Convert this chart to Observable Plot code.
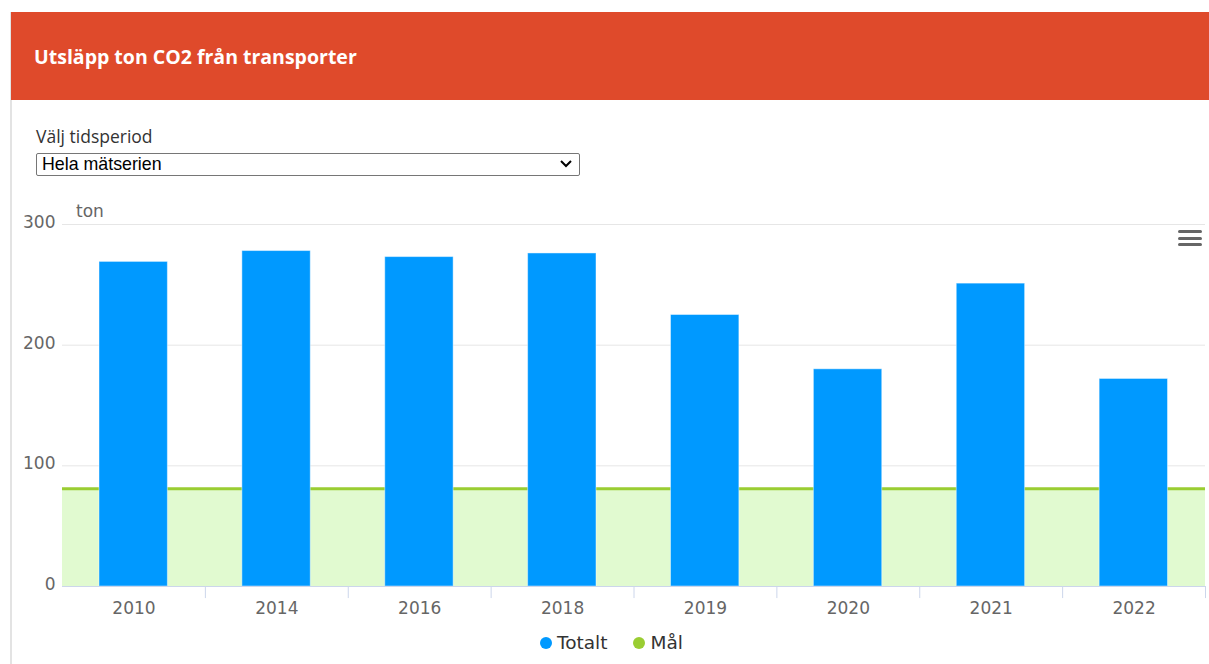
<!DOCTYPE html>
<html>
<head>
<meta charset="utf-8">
<script src="https://cdn.jsdelivr.net/npm/d3@7"></script>
<script src="https://cdn.jsdelivr.net/npm/@observablehq/plot@0.6"></script>
<style>
  html, body { margin: 0; padding: 0; background: #fff; width: 1209px; height: 664px; overflow: hidden; position: relative; font-family: "DejaVu Sans", sans-serif; }
  #border { position: absolute; left: 10px; top: 12px; width: 2px; height: 652px; background: #e3e3e3; }
  #header { position: absolute; left: 11px; top: 12px; width: 1198px; height: 88px; background: #df4a2b; }
  #header h1 { margin: 0; position: absolute; left: 23px; top: 32px; color: #fff; font: bold 19.5px "Open Sans", sans-serif; line-height: 26px; }
  #lbl { position: absolute; left: 36px; top: 125px; font: 17.5px "Open Sans", sans-serif; color: #333; line-height: 22px; }
  #sel { position: absolute; left: 36px; top: 153px; width: 542px; height: 21px; border: 1px solid #767676; border-radius: 2px; font: 17.8px "Liberation Sans", Arial, sans-serif; color: #000; line-height: 22px; }
  #sel span { position: absolute; left: 5px; top: -1px; }
  #sel svg { position: absolute; right: 6px; top: 5px; }
  #chart { position: absolute; left: 0; top: 195px; }
  #ton { position: absolute; left: 76px; top: 201px; font: 17px "DejaVu Sans", sans-serif; color: #666; line-height: 20px; }
  #menu { position: absolute; left: 1178px; top: 230px; width: 24px; }
  #menu div { height: 3px; background: #666; border-radius: 2px; margin-bottom: 3.5px; }
  #legend { position: absolute; top: 631px; left: 540px; font: 18.5px "DejaVu Sans", sans-serif; color: #333; line-height: 24px; display: flex; }
  #legend .it { display: flex; align-items: center; margin-right: 26px; }
  #legend .dot { width: 12px; height: 12px; border-radius: 6px; margin-right: 5px; }
</style>
</head>
<body>
<div id="border"></div>
<div id="header"><h1>Utsläpp ton CO2 från transporter</h1></div>
<div id="lbl">Välj tidsperiod</div>
<div id="sel"><span>Hela mätserien</span><svg width="14" height="10" viewBox="0 0 14 10"><path d="M2 2 L7 7 L12 2" fill="none" stroke="#000" stroke-width="2"/></svg></div>
<div id="chart"></div>
<div id="ton">ton</div>
<div id="menu"><div></div><div></div><div></div></div>
<div id="legend"></div>
<script>
const years = ["2010", "2014", "2016", "2018", "2019", "2020", "2021", "2022"];
const totalt = [269, 278, 273, 276, 225, 180, 251, 172];
const goal = 81;
const yTicks = [0, 100, 200, 300];
const seriesNames = ["Totalt", "Mål"];
const seriesColors = ["#0099ff", "#9acd32"];

const data = years.map((y, i) => ({year: y, value: totalt[i]}));
const W = 1209, H = 430, mL = 62, mR = 4;
const step = (W - mL - mR) / years.length;

const plot = Plot.plot({
  width: W,
  height: H,
  marginLeft: mL,
  marginRight: mR,
  marginTop: 29,
  marginBottom: 39,
  style: {fontFamily: "'DejaVu Sans', sans-serif", fontSize: "17px", color: "#666", background: "transparent"},
  x: {domain: years, padding: 0, round: false, label: null},
  y: {domain: [0, 300], label: null},
  marks: [
    Plot.ruleY(yTicks.filter(d => d > 0), {stroke: "#e6e6e6", strokeWidth: 1}),
    Plot.rectY([goal], {y1: 0, y2: d => d, fill: "#e1fad0"}),
    Plot.ruleY([goal], {stroke: seriesColors[1], strokeWidth: 3}),
    Plot.barY(data, {x: "year", y: "value", fill: seriesColors[0], insetLeft: 37, insetRight: 37.5, stroke: "#ffffff", strokeOpacity: 0.45, strokeWidth: 1}),
    Plot.ruleY([0], {stroke: "#ccd6eb", strokeWidth: 1}),
    Plot.ruleX(years, {x: d => d, dx: step / 2, y1: 0, y2: -10, stroke: "#ccd6eb", strokeWidth: 1}),
    Plot.axisX({tickSize: 0, tickPadding: 15, fill: "#666", fontSize: 17, label: null}),
    Plot.axisY({ticks: yTicks, tickSize: 0, tickPadding: 7, fill: "#666", fontSize: 17, dy: -2, label: null})
  ]
});
document.getElementById("chart").appendChild(plot);

const legend = document.getElementById("legend");
seriesNames.forEach((n, i) => {
  const it = document.createElement("div");
  it.className = "it";
  const dot = document.createElement("div");
  dot.className = "dot";
  dot.style.background = seriesColors[i];
  const t = document.createElement("span");
  t.textContent = n;
  it.appendChild(dot);
  it.appendChild(t);
  legend.appendChild(it);
});
</script>
</body>
</html>
